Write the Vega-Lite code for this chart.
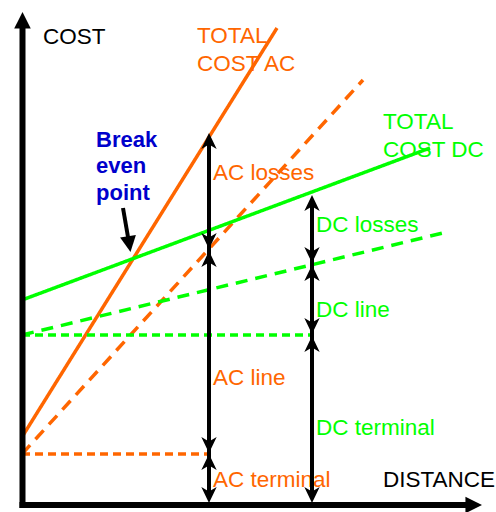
{
  "$schema": "https://vega.github.io/schema/vega-lite/v6.json",
  "width": 496,
  "height": 512,
  "autosize": {"type": "none"},
  "padding": 0,
  "background": "white",
  "config": {"view": {"stroke": null}},
  "resolve": {"scale": {"shape": "independent", "color": "independent", "strokeDash": "independent"}},
  "layer": [
    {
      "data": {"values": [
        {"label": "COST", "system": "axis", "distance": 43, "cost": 468},
        {"label": "DISTANCE", "system": "axis", "distance": 383, "cost": 25},
        {"label": "TOTAL", "system": "AC", "distance": 197, "cost": 469},
        {"label": "COST AC", "system": "AC", "distance": 197, "cost": 441},
        {"label": "AC losses", "system": "AC", "distance": 213, "cost": 332},
        {"label": "AC line", "system": "AC", "distance": 213, "cost": 127},
        {"label": "AC terminal", "system": "AC", "distance": 213, "cost": 25},
        {"label": "TOTAL", "system": "DC", "distance": 383, "cost": 383},
        {"label": "COST DC", "system": "DC", "distance": 383, "cost": 355},
        {"label": "DC losses", "system": "DC", "distance": 316, "cost": 280},
        {"label": "DC line", "system": "DC", "distance": 316, "cost": 195},
        {"label": "DC terminal", "system": "DC", "distance": 316, "cost": 77}
      ]},
      "mark": {"type": "text", "align": "left", "baseline": "alphabetic", "font": "Liberation Sans", "fontSize": 22.5},
      "encoding": {
        "x": {"field": "distance", "type": "quantitative", "scale": {"domain": [0, 496], "nice": false, "zero": false}, "axis": null},
        "y": {"field": "cost", "type": "quantitative", "scale": {"domain": [0, 512], "nice": false, "zero": false}, "axis": null},
        "text": {"field": "label"},
        "color": {"field": "system", "type": "nominal", "scale": {"domain": ["AC", "DC", "axis"], "range": ["#FF6600", "#00FF00", "#000000"]}, "legend": null}
      }
    },
    {
      "data": {"values": [
        {"label": "Break", "distance": 96, "cost": 365},
        {"label": "even", "distance": 96, "cost": 339},
        {"label": "point", "distance": 96, "cost": 312}
      ]},
      "mark": {"type": "text", "align": "left", "baseline": "alphabetic", "font": "Liberation Sans", "fontSize": 22, "fontWeight": "bold", "color": "#0000CC"},
      "encoding": {
        "x": {"field": "distance", "type": "quantitative", "scale": {"domain": [0, 496], "nice": false, "zero": false}, "axis": null},
        "y": {"field": "cost", "type": "quantitative", "scale": {"domain": [0, 512], "nice": false, "zero": false}, "axis": null},
        "text": {"field": "label"}
      }
    },
    {
      "data": {"values": [
        {"curve": "AC total", "system": "AC", "component": "total", "distance": 22, "cost": 75},
        {"curve": "AC total", "system": "AC", "component": "total", "distance": 277, "cost": 484},
        {"curve": "AC line + terminal", "system": "AC", "component": "line + terminal", "distance": 22, "cost": 58},
        {"curve": "AC line + terminal", "system": "AC", "component": "line + terminal", "distance": 363, "cost": 432},
        {"curve": "AC terminal", "system": "AC", "component": "terminal", "distance": 22, "cost": 58},
        {"curve": "AC terminal", "system": "AC", "component": "terminal", "distance": 209, "cost": 58},
        {"curve": "DC total", "system": "DC", "component": "total", "distance": 22, "cost": 212},
        {"curve": "DC total", "system": "DC", "component": "total", "distance": 430, "cost": 364},
        {"curve": "DC line + terminal", "system": "DC", "component": "line + terminal", "distance": 22, "cost": 177},
        {"curve": "DC line + terminal", "system": "DC", "component": "line + terminal", "distance": 447, "cost": 280},
        {"curve": "DC terminal", "system": "DC", "component": "terminal", "distance": 22, "cost": 177},
        {"curve": "DC terminal", "system": "DC", "component": "terminal", "distance": 312, "cost": 177}
      ]},
      "mark": {"type": "line", "strokeWidth": 3.5, "strokeCap": "butt"},
      "encoding": {
        "x": {"field": "distance", "type": "quantitative", "scale": {"domain": [0, 496], "nice": false, "zero": false}, "axis": null},
        "y": {"field": "cost", "type": "quantitative", "scale": {"domain": [0, 512], "nice": false, "zero": false}, "axis": null},
        "detail": {"field": "curve"},
        "color": {"field": "system", "type": "nominal", "scale": {"domain": ["AC", "DC"], "range": ["#FF6600", "#00FF00"]}, "legend": null},
        "strokeDash": {"field": "component", "type": "nominal", "scale": {"domain": ["total", "line + terminal", "terminal"], "range": [[1, 0], [12, 8], [8, 5]]}, "legend": null}
      }
    },
    {
      "data": {"values": [
        {"axis": "cost", "distance": 22.5, "cost": 4},
        {"axis": "cost", "distance": 22.5, "cost": 484},
        {"axis": "distance", "distance": 19.5, "cost": 7},
        {"axis": "distance", "distance": 467, "cost": 7}
      ]},
      "mark": {"type": "line", "strokeWidth": 6, "strokeCap": "butt", "color": "#000000"},
      "encoding": {
        "x": {"field": "distance", "type": "quantitative", "scale": {"domain": [0, 496], "nice": false, "zero": false}, "axis": null},
        "y": {"field": "cost", "type": "quantitative", "scale": {"domain": [0, 512], "nice": false, "zero": false}, "axis": null},
        "detail": {"field": "axis"}
      }
    },
    {
      "data": {"values": [
        {"dimension": "AC", "distance": 209, "cost": 375},
        {"dimension": "AC", "distance": 209, "cost": 13},
        {"dimension": "DC", "distance": 312, "cost": 313},
        {"dimension": "DC", "distance": 312, "cost": 13},
        {"dimension": "break even", "distance": 123, "cost": 304},
        {"dimension": "break even", "distance": 128.5, "cost": 272}
      ]},
      "mark": {"type": "line", "strokeWidth": 4, "strokeCap": "butt", "color": "#000000"},
      "encoding": {
        "x": {"field": "distance", "type": "quantitative", "scale": {"domain": [0, 496], "nice": false, "zero": false}, "axis": null},
        "y": {"field": "cost", "type": "quantitative", "scale": {"domain": [0, 512], "nice": false, "zero": false}, "axis": null},
        "detail": {"field": "dimension"}
      }
    },
    {
      "data": {"values": [
        {"direction": "up", "distance": 209, "cost": 379},
        {"direction": "down", "distance": 209, "cost": 263},
        {"direction": "up", "distance": 209, "cost": 261},
        {"direction": "down", "distance": 209, "cost": 59},
        {"direction": "up", "distance": 209, "cost": 58},
        {"direction": "down", "distance": 209, "cost": 9},
        {"direction": "up", "distance": 312, "cost": 317},
        {"direction": "down", "distance": 312, "cost": 249},
        {"direction": "up", "distance": 312, "cost": 247},
        {"direction": "down", "distance": 312, "cost": 178},
        {"direction": "up", "distance": 312, "cost": 176},
        {"direction": "down", "distance": 312, "cost": 9}
      ]},
      "mark": {"type": "point", "filled": true, "opacity": 1, "color": "#000000", "size": 1024, "strokeWidth": 0},
      "encoding": {
        "x": {"field": "distance", "type": "quantitative", "scale": {"domain": [0, 496], "nice": false, "zero": false}, "axis": null},
        "y": {"field": "cost", "type": "quantitative", "scale": {"domain": [0, 512], "nice": false, "zero": false}, "axis": null},
        "shape": {"field": "direction", "type": "nominal", "scale": {"domain": ["up", "down"], "range": ["M0,0 L-0.48,1 L0,0.72 L0.48,1 Z", "M0,0 L-0.48,-1 L0,-0.72 L0.48,-1 Z"]}, "legend": null}
      }
    },
    {
      "data": {"values": [
        {"axis": "cost", "distance": 22.5, "cost": 500},
        {"axis": "distance", "distance": 482, "cost": 7}
      ]},
      "mark": {"type": "point", "filled": true, "opacity": 1, "color": "#000000", "size": 1100, "strokeWidth": 0},
      "encoding": {
        "x": {"field": "distance", "type": "quantitative", "scale": {"domain": [0, 496], "nice": false, "zero": false}, "axis": null},
        "y": {"field": "cost", "type": "quantitative", "scale": {"domain": [0, 512], "nice": false, "zero": false}, "axis": null},
        "shape": {"field": "axis", "type": "nominal", "scale": {"domain": ["cost", "distance"], "range": ["M0,0 L-0.5,1 L0.5,1 Z", "M0,0 L-1,-0.5 L-1,0.5 Z"]}, "legend": null}
      }
    },
    {
      "data": {"values": [
        {"pointer": "break even point", "distance": 130.5, "cost": 260}
      ]},
      "mark": {"type": "point", "filled": true, "opacity": 1, "color": "#000000", "size": 1024, "strokeWidth": 0, "shape": "M0,0 L-0.5,-1 L0.5,-1 Z", "angle": -9},
      "encoding": {
        "x": {"field": "distance", "type": "quantitative", "scale": {"domain": [0, 496], "nice": false, "zero": false}, "axis": null},
        "y": {"field": "cost", "type": "quantitative", "scale": {"domain": [0, 512], "nice": false, "zero": false}, "axis": null}
      }
    }
  ]
}
